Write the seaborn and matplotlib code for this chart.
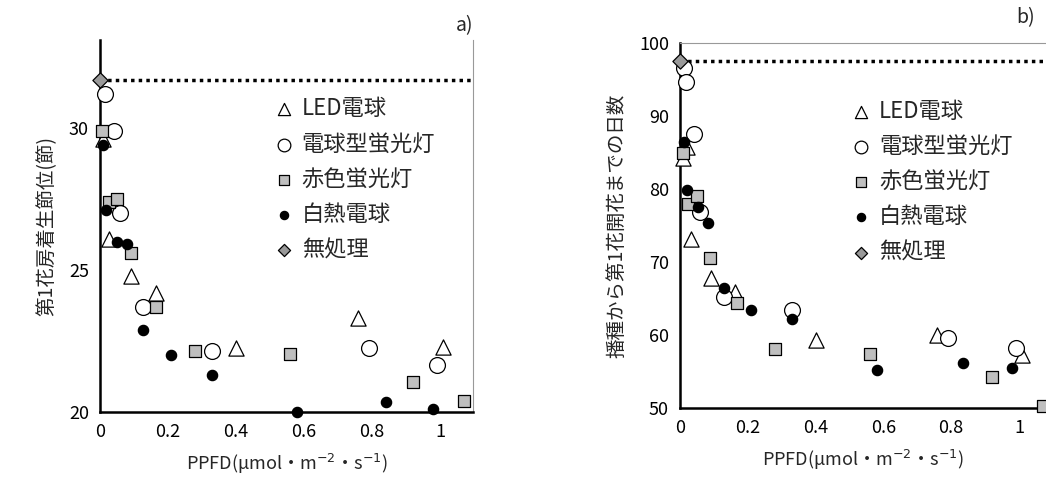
import matplotlib
matplotlib.use("Agg")
import matplotlib.pyplot as plt
import seaborn as sns
import pandas as pd

sns.set_style("white")
plt.rcParams['font.family'] = ['Noto Sans CJK JP', 'DejaVu Sans']

labels = ['LED電球', '電球型蛍光灯', '赤色蛍光灯', '白熱電球', '無処理']

# a) 第1花房着生節位
a_led_x = [0.01, 0.025, 0.09, 0.165, 0.40, 0.76, 1.01]
a_led_y = [29.6, 26.1, 24.8, 24.2, 22.25, 23.3, 22.3]
a_cfl_x = [0.015, 0.04, 0.058, 0.126, 0.33, 0.79, 0.99]
a_cfl_y = [31.2, 29.9, 27.0, 23.7, 22.15, 22.25, 21.65]
a_red_x = [0.007, 0.025, 0.05, 0.09, 0.166, 0.28, 0.56, 0.92, 1.07]
a_red_y = [29.9, 27.4, 27.5, 25.6, 23.7, 22.15, 22.05, 21.05, 20.4]
a_inc_x = [0.01, 0.018, 0.05, 0.08, 0.125, 0.21, 0.33, 0.58, 0.84, 0.98]
a_inc_y = [29.4, 27.1, 26.0, 25.9, 22.9, 22.0, 21.3, 20.0, 20.35, 20.1]
a_ctrl = 31.7

# b) 播種から第1花開花までの日数
b_led_x = [0.008, 0.02, 0.031, 0.09, 0.162, 0.40, 0.757, 1.01]
b_led_y = [84.3, 85.7, 73.1, 67.8, 65.9, 59.3, 60.0, 57.3]
b_cfl_x = [0.012, 0.018, 0.041, 0.059, 0.13, 0.33, 0.79, 0.99]
b_cfl_y = [96.6, 94.7, 87.6, 76.8, 65.2, 63.4, 59.6, 58.2]
b_red_x = [0.01, 0.025, 0.05, 0.089, 0.167, 0.28, 0.56, 0.92, 1.07]
b_red_y = [84.9, 77.9, 79.0, 70.6, 64.4, 58.1, 57.4, 54.3, 50.3]
b_inc_x = [0.012, 0.02, 0.054, 0.084, 0.13, 0.21, 0.33, 0.58, 0.835, 0.98]
b_inc_y = [86.5, 79.8, 77.5, 75.3, 66.5, 63.4, 62.2, 55.2, 56.2, 55.5]
b_ctrl = 97.6

styles = [
    dict(marker='^', facecolor='white', s=120),
    dict(marker='o', facecolor='white', s=130),
    dict(marker='s', facecolor='#bfbfbf', s=80),
    dict(marker='o', facecolor='black', s=55),
    dict(marker='D', facecolor='#999999', s=60),
]


def panel(ax, series, ctrl, ylim, yticks, ylabel, tag, xmax):
    for (xs, ys), lab, st in zip(series, labels[:4], styles[:4]):
        df = pd.DataFrame({'x': xs, 'y': ys})
        sns.scatterplot(data=df, x='x', y='y', ax=ax, marker=st['marker'], s=st['s'],
                        color=st['facecolor'], edgecolor='black', linewidth=0.9,
                        label=lab, clip_on=False, zorder=3)
    ax.axhline(ctrl, xmin=0, xmax=1, color='black', linestyle=(0, (1, 1.2)), linewidth=2.5, zorder=2)
    sns.scatterplot(x=[0.0], y=[ctrl], ax=ax, marker='D', s=60, color='#999999',
                    edgecolor='black', linewidth=0.9, label=labels[4], clip_on=False, zorder=4)
    ax.set_xlim(0, xmax)
    ax.set_ylim(*ylim)
    ax.set_xticks([0, 0.2, 0.4, 0.6, 0.8, 1])
    ax.set_xticklabels(['0', '0.2', '0.4', '0.6', '0.8', '1'])
    ax.set_yticks(yticks)
    ax.tick_params(axis='both', direction='in', length=5, labelsize=13, width=1, pad=8,
                   labelcolor='black')
    ax.set_xlabel('PPFD(μmol・m$^{-2}$・s$^{-1}$)', fontsize=13, labelpad=8)
    ax.set_ylabel(ylabel, fontsize=14, labelpad=8)
    for sp in ax.spines.values():
        sp.set_color('#999999')
        sp.set_linewidth(0.8)
    for sp in ['left', 'bottom']:
        ax.spines[sp].set_color('black')
        ax.spines[sp].set_linewidth(1.8)
    leg = ax.legend(loc='upper left', bbox_to_anchor=(0.38, 0.9), frameon=False,
                    fontsize=16, handletextpad=-0.2, labelspacing=0.55, markerscale=0.8)
    for h in leg.legend_handles:
        h.set_clip_on(False)
    ax.text(1.0, 1.01, tag, transform=ax.transAxes, ha='right', va='bottom', fontsize=14)


fig = plt.figure(figsize=(10.46, 4.88), dpi=100)
ax1 = fig.add_axes([100 / 1046, 76 / 488, 373 / 1046, 372 / 488])
ax2 = fig.add_axes([680 / 1046, 80 / 488, 366 / 1046, 365 / 488])

panel(ax1, [(a_led_x, a_led_y), (a_cfl_x, a_cfl_y), (a_red_x, a_red_y), (a_inc_x, a_inc_y)],
      a_ctrl, (20, 33.1), [20, 25, 30], '第1花房着生節位(節)', 'a)', 1.097)
panel(ax2, [(b_led_x, b_led_y), (b_cfl_x, b_cfl_y), (b_red_x, b_red_y), (b_inc_x, b_inc_y)],
      b_ctrl, (50, 100), [50, 60, 70, 80, 90, 100], '播種から第1花開花までの日数', 'b)', 1.08)
ax1.spines['top'].set_visible(False)
ax2.spines['right'].set_visible(False)
ax2.texts[0].set_position((0.97, 1.04))

fig.savefig('out.png', dpi=100)
